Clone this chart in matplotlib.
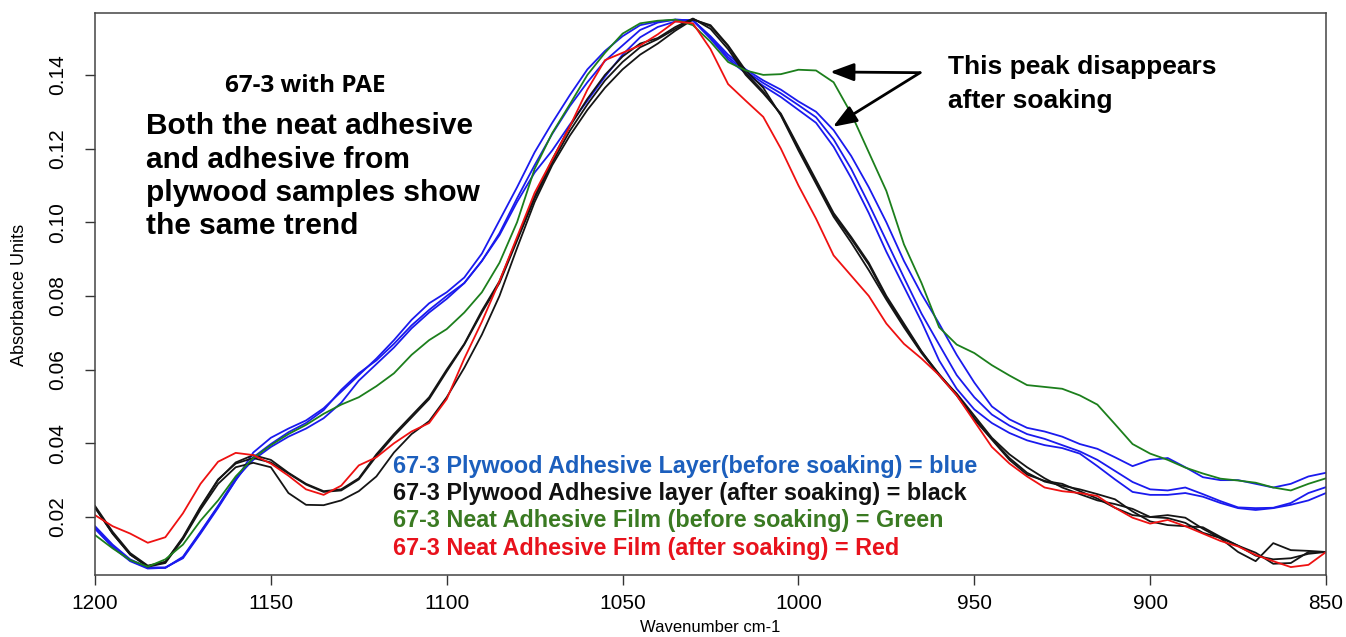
import numpy as np
import matplotlib
matplotlib.use("Agg")
from matplotlib import pyplot as plt

plt.rcParams['font.family'] = ['Liberation Sans', 'DejaVu Sans']

# wavenumber grid (cm-1), 1200 -> 850 in steps of 5
wavenumber = np.arange(1200, 849, -5)

# plywood adhesive layer, before soaking (blue, 3 spectra)
blue_a = [0.0175, 0.0125, 0.0085, 0.0063, 0.0063, 0.0088, 0.0155, 0.0225, 0.0300, 0.0375,
          0.0415, 0.0440, 0.0462, 0.0495, 0.0540, 0.0585, 0.0630, 0.0680, 0.0735, 0.0780,
          0.0810, 0.0850, 0.0915, 0.1005, 0.1095, 0.1190, 0.1270, 0.1345, 0.1415, 0.1465,
          0.1505, 0.1535, 0.1545, 0.1550, 0.1548, 0.1505, 0.1455, 0.1415, 0.1385, 0.1360,
          0.1328, 0.1300, 0.1250, 0.1180, 0.1095, 0.1000, 0.0895, 0.0805, 0.0725, 0.0640,
          0.0565, 0.0500, 0.0465, 0.0442, 0.0432, 0.0418, 0.0398, 0.0385, 0.0362, 0.0338,
          0.0355, 0.0360, 0.0335, 0.0308, 0.0300, 0.0300, 0.0290, 0.0280, 0.0290, 0.0310,
          0.0320]
blue_b = [0.0170, 0.0120, 0.0082, 0.0062, 0.0062, 0.0090, 0.0158, 0.0228, 0.0300, 0.0362,
          0.0398, 0.0430, 0.0455, 0.0490, 0.0545, 0.0590, 0.0625, 0.0670, 0.0720, 0.0762,
          0.0800, 0.0835, 0.0895, 0.0970, 0.1065, 0.1155, 0.1240, 0.1315, 0.1380, 0.1438,
          0.1480, 0.1522, 0.1542, 0.1550, 0.1548, 0.1502, 0.1448, 0.1410, 0.1378, 0.1350,
          0.1318, 0.1285, 0.1225, 0.1145, 0.1050, 0.0950, 0.0850, 0.0752, 0.0668, 0.0585,
          0.0525, 0.0478, 0.0448, 0.0425, 0.0412, 0.0395, 0.0378, 0.0355, 0.0325, 0.0295,
          0.0275, 0.0272, 0.0280, 0.0262, 0.0243, 0.0226, 0.0224, 0.0225, 0.0238, 0.0265,
          0.0281]
blue_c = [0.0168, 0.0118, 0.0080, 0.0060, 0.0062, 0.0092, 0.0160, 0.0230, 0.0305, 0.0355,
          0.0390, 0.0418, 0.0440, 0.0468, 0.0510, 0.0570, 0.0615, 0.0660, 0.0712, 0.0755,
          0.0792, 0.0835, 0.0895, 0.0965, 0.1055, 0.1135, 0.1195, 0.1265, 0.1330, 0.1395,
          0.1455, 0.1502, 0.1530, 0.1545, 0.1548, 0.1498, 0.1442, 0.1405, 0.1370, 0.1340,
          0.1305, 0.1270, 0.1205, 0.1120, 0.1025, 0.0920, 0.0825, 0.0730, 0.0625, 0.0548,
          0.0492, 0.0455, 0.0428, 0.0408, 0.0395, 0.0387, 0.0372, 0.0338, 0.0302, 0.0268,
          0.0260, 0.0260, 0.0265, 0.0255, 0.0238, 0.0224, 0.0219, 0.0224, 0.0233, 0.0245,
          0.0265]

# plywood adhesive layer, after soaking (black, 3 spectra)
black_a = [0.0227, 0.0155, 0.0098, 0.0066, 0.0078, 0.0142, 0.0225, 0.0300, 0.0348, 0.0368,
           0.0355, 0.0320, 0.0290, 0.0270, 0.0275, 0.0305, 0.0370, 0.0425, 0.0475, 0.0525,
           0.0600, 0.0670, 0.0760, 0.0840, 0.0955, 0.1070, 0.1170, 0.1260, 0.1335, 0.1400,
           0.1450, 0.1485, 0.1500, 0.1530, 0.1553, 0.1525, 0.1470, 0.1400, 0.1350, 0.1295,
           0.1205, 0.1115, 0.1025, 0.0960, 0.0890, 0.0800, 0.0725, 0.0650, 0.0585, 0.0530,
           0.0465, 0.0410, 0.0355, 0.0315, 0.0298, 0.0290, 0.0270, 0.0250, 0.0225, 0.0205,
           0.0200, 0.0205, 0.0198, 0.0168, 0.0142, 0.0105, 0.0080, 0.0129, 0.0110, 0.0108,
           0.0105]
black_b = [0.0230, 0.0160, 0.0102, 0.0068, 0.0078, 0.0145, 0.0228, 0.0302, 0.0345, 0.0360,
           0.0348, 0.0318, 0.0288, 0.0268, 0.0272, 0.0302, 0.0365, 0.0420, 0.0470, 0.0520,
           0.0595, 0.0668, 0.0755, 0.0835, 0.0950, 0.1065, 0.1162, 0.1248, 0.1320, 0.1385,
           0.1435, 0.1475, 0.1497, 0.1525, 0.1552, 0.1532, 0.1478, 0.1405, 0.1355, 0.1292,
           0.1200, 0.1110, 0.1020, 0.0955, 0.0885, 0.0795, 0.0720, 0.0648, 0.0588, 0.0532,
           0.0468, 0.0412, 0.0360, 0.0320, 0.0296, 0.0285, 0.0275, 0.0262, 0.0248, 0.0215,
           0.0188, 0.0178, 0.0175, 0.0172, 0.0146, 0.0122, 0.0095, 0.0085, 0.0088, 0.0100,
           0.0105]
black_c = [0.0225, 0.0155, 0.0098, 0.0065, 0.0075, 0.0140, 0.0220, 0.0290, 0.0335, 0.0347,
           0.0335, 0.0265, 0.0233, 0.0232, 0.0245, 0.0270, 0.0310, 0.0375, 0.0425, 0.0460,
           0.0525, 0.0605, 0.0695, 0.0800, 0.0930, 0.1055, 0.1155, 0.1235, 0.1305, 0.1365,
           0.1415, 0.1455, 0.1485, 0.1520, 0.1550, 0.1535, 0.1480, 0.1412, 0.1365, 0.1290,
           0.1195, 0.1105, 0.1015, 0.0945, 0.0870, 0.0790, 0.0715, 0.0645, 0.0585, 0.0535,
           0.0475, 0.0415, 0.0370, 0.0335, 0.0305, 0.0280, 0.0262, 0.0245, 0.0235, 0.0222,
           0.0200, 0.0197, 0.0184, 0.0157, 0.0143, 0.0122, 0.0103, 0.0073, 0.0075, 0.0105,
           0.0105]

# neat adhesive film, before soaking (green)
green = [0.0151, 0.0115, 0.0083, 0.0065, 0.0085, 0.0125, 0.0190, 0.0245, 0.0310, 0.0360,
         0.0395, 0.0425, 0.0450, 0.0480, 0.0505, 0.0525, 0.0555, 0.0590, 0.0640, 0.0680,
         0.0710, 0.0755, 0.0810, 0.0890, 0.1000, 0.1145, 0.1242, 0.1320, 0.1400, 0.1460,
         0.1512, 0.1540, 0.1547, 0.1550, 0.1535, 0.1490, 0.1435, 0.1412, 0.1400, 0.1402,
         0.1414, 0.1412, 0.1380, 0.1295, 0.1190, 0.1085, 0.0940, 0.0835, 0.0715, 0.0668,
         0.0645, 0.0612, 0.0584, 0.0558, 0.0553, 0.0548, 0.0530, 0.0505, 0.0452, 0.0398,
         0.0372, 0.0355, 0.0334, 0.0318, 0.0304, 0.0299, 0.0293, 0.0280, 0.0272, 0.0290,
         0.0305]

# neat adhesive film, after soaking (red)
red = [0.0205, 0.0175, 0.0155, 0.0130, 0.0145, 0.0210, 0.0290, 0.0350, 0.0374, 0.0368,
       0.0345, 0.0312, 0.0275, 0.0260, 0.0285, 0.0340, 0.0362, 0.0400, 0.0432, 0.0455,
       0.0520, 0.0630, 0.0730, 0.0840, 0.0960, 0.1080, 0.1170, 0.1260, 0.1360, 0.1440,
       0.1460, 0.1480, 0.1510, 0.1545, 0.1540, 0.1470, 0.1375, 0.1330, 0.1286, 0.1200,
       0.1100, 0.1010, 0.0910, 0.0855, 0.0800, 0.0725, 0.0670, 0.0630, 0.0585, 0.0530,
       0.0460, 0.0390, 0.0345, 0.0310, 0.0280, 0.0270, 0.0265, 0.0257, 0.0225, 0.0198,
       0.0182, 0.0192, 0.0175, 0.0155, 0.0135, 0.0120, 0.0097, 0.0080, 0.0064, 0.0070,
       0.0105]

legend_lines = [
    ("67-3 Plywood Adhesive Layer(before soaking) = blue", "#1c5fbd"),
    ("67-3 Plywood Adhesive layer (after soaking) = black", "#111111"),
    ("67-3 Neat Adhesive Film (before soaking) = Green", "#3a7a22"),
    ("67-3 Neat Adhesive Film (after soaking) = Red", "#e8121c"),
]

W, H = 1346, 637
fig = plt.figure(figsize=(W / 100, H / 100), dpi=100)
ax = fig.add_axes([95 / W, 62 / H, 1231 / W, 562 / H])

lw = 1.3
for s in (blue_a, blue_b, blue_c):
    ax.plot(wavenumber, s, color="#1a1aee", lw=lw)
for s in (black_a, black_b, black_c):
    ax.plot(wavenumber, s, color="#151515", lw=lw)
ax.plot(wavenumber, green, color="#1c7f1c", lw=lw)
ax.plot(wavenumber, red, color="#ee1111", lw=lw)

ax.set_xlim(1200, 850)
ax.set_ylim(0.00425, 0.1568)
ax.set_xticks([1200, 1150, 1100, 1050, 1000, 950, 900, 850])
ax.set_yticks([0.02, 0.04, 0.06, 0.08, 0.10, 0.12, 0.14])
ax.set_yticklabels(["0.02", "0.04", "0.06", "0.08", "0.10", "0.12", "0.14"],
                   rotation=90, va="center")
ax.tick_params(axis="both", direction="out", length=7, width=1.0, color="#333333",
               labelsize=15)
ax.tick_params(axis="x", pad=7)
ax.tick_params(axis="y", pad=13)
for sp in ax.spines.values():
    sp.set_color("#444444")
    sp.set_linewidth(1.1)

fig.text(20 / W, 1 - 295 / H, "Absorbance Units", rotation=90, fontsize=13,
         ha="center", va="center")
fig.text(710 / W, 1 - 627 / H, "Wavenumber cm-1", fontsize=12, ha="center", va="center")

fig.text(305 / W, 1 - 92 / H, "67-3 with PAE", fontsize=17.5, fontweight="bold",
         family=["Open Sans", "DejaVu Sans"], ha="center", va="baseline")
fig.text(146 / W, 1 - 112 / H,
         "Both the neat adhesive\nand adhesive from\nplywood samples show\nthe same trend",
         fontsize=21.5, fontweight="bold", ha="left", va="top", linespacing=1.25)

fig.text(948 / W, 1 - 74 / H, "This peak disappears", fontsize=19,
         fontweight="bold", ha="left", va="baseline")
fig.text(948 / W, 1 - 108 / H, "after soaking", fontsize=19,
         fontweight="bold", ha="left", va="baseline")

arrow_props = dict(arrowstyle="-|>,head_length=0.8,head_width=0.3", color="black",
                   lw=2, mutation_scale=18, shrinkA=0, shrinkB=0)
ax.annotate("", xy=(991, 0.1408), xytext=(965.4, 0.1406), arrowprops=arrow_props)
ax.annotate("", xy=(990.2, 0.1259), xytext=(965.4, 0.1406), arrowprops=arrow_props)

for i, (txt, col) in enumerate(legend_lines):
    fig.text(393 / W, 1 - (466 + i * 27.4) / H, txt, color=col, fontsize=16.8,
             fontweight="bold", ha="left", va="center")

fig.savefig("out.png", dpi=100)
